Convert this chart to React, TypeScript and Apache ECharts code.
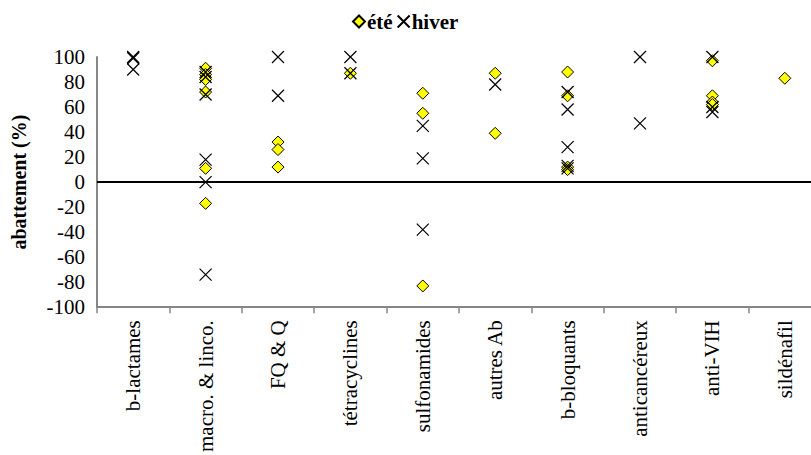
import React, { useEffect, useRef } from "react";
import * as echarts from "echarts";

const categories = [
  "b-lactames",
  "macro. & linco.",
  "FQ & Q",
  "tétracyclines",
  "sulfonamides",
  "autres Ab",
  "b-bloquants",
  "anticancéreux",
  "anti-VIH",
  "sildénafil",
];

const eteValues: number[][] = [
  [],
  [91, 86, 82, 72, 11, -17],
  [32, 26, 12],
  [87],
  [71, 55, -83],
  [87, 39],
  [88, 69, 12, 10],
  [],
  [97, 69, 64, 62],
  [83],
];

const hiverValues: number[][] = [
  [100, 99, 90],
  [88, 84, 70, 18, 0, -74],
  [100, 69],
  [100, 87],
  [45, 19, -38],
  [78],
  [72, 58, 28, 13, 11],
  [100, 47],
  [100, 60, 56],
  [],
];

const yTicks = { min: -100, max: 100, interval: 20 };

const SERIF = "'Liberation Serif', 'Times New Roman', serif";

export default function App() {
  const ref = useRef<HTMLDivElement>(null);
  useEffect(() => {
    document.body.style.margin = "0";
    if (!ref.current) return;
    const chart = echarts.init(ref.current, null, { renderer: "svg" });
    const eteData: [string, number][] = [];
    eteValues.forEach((vals, i) => vals.forEach((v) => eteData.push([categories[i], v])));
    const hiverData: [string, number][] = [];
    hiverValues.forEach((vals, i) => vals.forEach((v) => hiverData.push([categories[i], v])));

    chart.setOption({
      animation: false,
      backgroundColor: "#fff",
      textStyle: { fontFamily: SERIF },
      legend: {
        top: 6,
        left: 347,
        itemGap: 4,
        itemWidth: 12,
        itemHeight: 12,
        textStyle: { fontFamily: SERIF, fontSize: 21, fontWeight: "bold", color: "#000", padding: [0, 0, 0, -3] },
        data: ["été", "hiver"],
      },
      grid: { left: 97, right: 0, top: 57, bottom: 147, containLabel: false },
      xAxis: {
        type: "category",
        data: categories,
        boundaryGap: true,
        axisLine: { onZero: false, lineStyle: { color: "#868686", width: 2 } },
        axisTick: { show: true, length: 6, lineStyle: { color: "#868686", width: 1.5 } },
        axisLabel: {
          rotate: 90,
          interval: 0,
          margin: 13,
          fontFamily: SERIF,
          fontSize: 21,
          color: "#000",
        },
        splitLine: { show: false },
      },
      yAxis: {
        type: "value",
        min: yTicks.min,
        max: yTicks.max,
        interval: yTicks.interval,
        name: "abattement (%)",
        nameLocation: "middle",
        nameGap: 68,
        nameTextStyle: { fontFamily: SERIF, fontSize: 20, fontWeight: "bold", color: "#000" },
        axisLine: { show: true, lineStyle: { color: "#868686", width: 2 } },
        axisTick: { show: false },
        axisLabel: { fontFamily: SERIF, fontSize: 21, color: "#000", margin: 12 },
        splitLine: { show: false },
      },
      series: [
        {
          name: "été",
          type: "scatter",
          symbol: "diamond",
          symbolSize: [12, 12],
          itemStyle: { color: "#FFFF00", borderColor: "#000", borderWidth: 1, opacity: 1 },
          data: eteData,
          z: 3,
          markLine: {
            silent: true,
            symbol: "none",
            label: { show: false },
            lineStyle: { color: "#000", width: 2, type: "solid" },
            data: [{ yAxis: 0 }],
          },
        },
        {
          name: "hiver",
          type: "scatter",
          symbol: "path://M0,0L12,12M12,0L0,12",
          symbolSize: 12,
          itemStyle: { color: "transparent", borderColor: "#000", borderWidth: 1.2, opacity: 1 },
          data: hiverData,
          z: 4,
        },
      ],
    });
    return () => chart.dispose();
  }, []);
  return (
    <div style={{ width: 811, height: 455, overflow: "hidden" }}>
      <div ref={ref} style={{ width: 821, height: 455 }} />
    </div>
  );
}
